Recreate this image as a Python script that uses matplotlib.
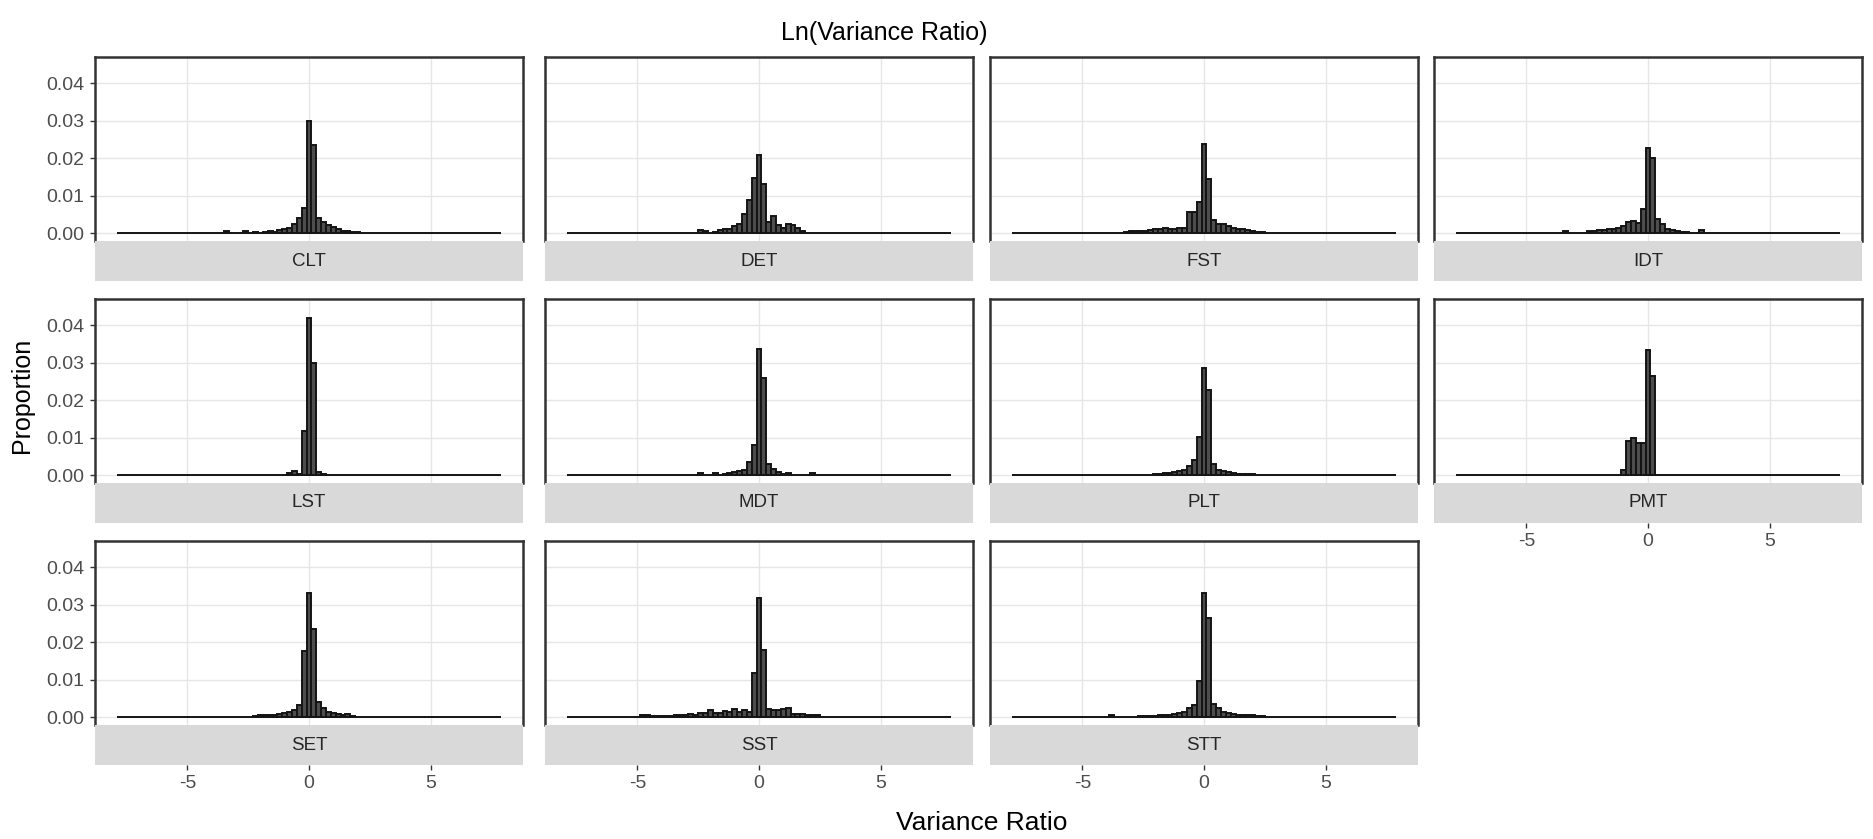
import numpy as np
import matplotlib.pyplot as plt

plt.rcParams['font.family'] = ['Liberation Sans', 'DejaVu Sans']
plt.rcParams['axes.unicode_minus'] = False

# histogram bins: width 0.2, data range -7.9 .. 7.9
bin_width = 0.2
x_lo, x_hi = -7.9, 7.9
# heights below are for bin centres -5.0, -4.8, ..., 3.0 (41 bins), in units of 0.001
window_start = -5.0

facets = ['CLT', 'DET', 'FST', 'IDT', 'LST', 'MDT', 'PLT', 'PMT', 'SET', 'SST', 'STT']

#        -5.0 .. -3.6               -3.4 .. -2.0                    -1.8 .. -0.2                                 0.0 .. 2.0                                          2.2 .. 3.0
h_clt = [0, 0, 0, 0, 0, 0, 0, 0,    0.6, 0, 0, 0, 0.5, 0, 0.4, 0,   0.3, 0.5, 0.4, 0.8, 1.2, 1.5, 2.5, 4.0, 6.8,  30.0, 23.5, 4.0, 3.0, 2.2, 1.6, 1.1, 0.7, 0.5, 0.3, 0.2,  0, 0, 0, 0, 0]
h_det = [0, 0, 0, 0, 0, 0, 0, 0,    0, 0, 0, 0, 0, 0.8, 0.6, 0,     0.3, 0.8, 1.0, 1.2, 1.8, 2.5, 5.0, 8.8, 14.6, 20.8, 13.0, 3.0, 4.7, 2.2, 1.5, 2.5, 2.3, 1.5, 0.5, 0,    0, 0, 0, 0, 0]
h_fst = [0, 0, 0, 0, 0, 0, 0, 0,    0, 0.4, 0.5, 0.5, 0.7, 0.7, 0.8, 1.0, 1.0, 1.5, 1.0, 1.2, 1.5, 1.5, 5.6, 5.6, 8.3, 23.9, 14.5, 3.5, 2.5, 2.5, 2.0, 1.5, 1.0, 1.0, 0.8, 0.5, 0.3, 0.2, 0, 0, 0]
h_idt = [0, 0, 0, 0, 0, 0, 0, 0,    0.6, 0, 0, 0, 0, 0.5, 0.6, 0.8, 0.8, 1.2, 1.2, 1.5, 2.0, 3.0, 3.2, 2.8, 6.5,  22.8, 20.0, 3.8, 2.4, 1.2, 0.8, 0.6, 0.4, 0.3, 0, 0,      0.8, 0, 0, 0, 0]
h_lst = [0, 0, 0, 0, 0, 0, 0, 0,    0, 0, 0, 0, 0, 0, 0, 0,         0, 0, 0, 0, 0, 0.5, 1.0, 0.3, 11.7,           42.0, 30.0, 0.8, 0.4, 0, 0, 0, 0, 0, 0, 0,         0, 0, 0, 0, 0]
h_mdt = [0, 0, 0, 0, 0, 0, 0, 0,    0, 0, 0, 0, 0, 0.5, 0, 0,       0.5, 0, 0.3, 0.6, 0.8, 1.0, 1.5, 3.5, 8.0,    33.6, 26.0, 3.0, 1.7, 0.8, 0.3, 0.6, 0, 0, 0, 0,     0.5, 0, 0, 0, 0]
h_plt = [0, 0, 0, 0, 0, 0, 0, 0,    0, 0, 0, 0, 0, 0, 0, 0.3,       0.3, 0.5, 0.6, 0.8, 1.0, 1.5, 2.5, 4.0, 10.1, 28.7, 22.8, 3.0, 1.5, 1.0, 0.8, 0.5, 0.4, 0.3, 0.3, 0.3, 0, 0, 0, 0, 0]
h_pmt = [0, 0, 0, 0, 0, 0, 0, 0,    0, 0, 0, 0, 0, 0, 0, 0,         0, 0, 0, 0, 1.5, 9.0, 10.0, 8.5, 8.5,         33.5, 26.4, 0, 0, 0, 0, 0, 0, 0, 0, 0,             0, 0, 0, 0, 0]
h_set = [0, 0, 0, 0, 0, 0, 0, 0,    0, 0, 0, 0, 0, 0, 0.4, 0.5,     0.5, 0.6, 0.7, 0.8, 1.0, 1.5, 2.0, 3.2, 17.7, 33.2, 23.6, 4.0, 2.5, 1.5, 1.0, 0.8, 0.5, 0.8, 0.3, 0,   0, 0, 0, 0, 0]
h_sst = [0, 0.5, 0.5, 0.3, 0.2, 0.4, 0.2, 0.4, 0.5, 0.6, 0.5, 0.8, 0.7, 1.0, 1.2, 1.8, 1.2, 1.2, 1.6, 1.4, 2.2, 1.5, 1.8, 1.3, 11.8, 31.8, 18.0, 2.2, 1.8, 2.0, 2.2, 2.5, 0.8, 0.8, 0.8, 0.7, 0.5, 0.6, 0, 0, 0]
h_stt = [0, 0, 0, 0, 0, 0, 0.6, 0,  0, 0, 0, 0, 0.3, 0.4, 0.4, 0.4, 0.5, 0.5, 0.6, 0.8, 1.0, 1.5, 2.5, 3.2, 9.7,  33.2, 26.4, 3.5, 2.5, 1.5, 1.0, 0.8, 0.6, 0.5, 0.5, 0.5, 0.4, 0.3, 0, 0, 0]

heights = dict(CLT=h_clt, DET=h_det, FST=h_fst, IDT=h_idt, LST=h_lst, MDT=h_mdt,
               PLT=h_plt, PMT=h_pmt, SET=h_set, SST=h_sst, STT=h_stt)

y_ticks = [0.00, 0.01, 0.02, 0.03, 0.04]
x_ticks = [-5, 0, 5]

# full bin grid
n_bins = int(round((x_hi - x_lo) / bin_width))
centers = x_lo + bin_width / 2 + bin_width * np.arange(n_bins)
offset = int(round((window_start - centers[0]) / bin_width))

W, H = 1873, 839
fig = plt.figure(figsize=(W / 100, H / 100), dpi=100)


def px_box(left, top, w, h):
    return [left / W, 1 - (top + h) / H, w / W, h / H]


col_left = [95, 545, 990, 1434]
row_top = [57, 299, 541]
panel_w, panel_h, strip_h = 428, 184, 40
xlim = (-8.8, 8.8)
ylim = (-0.0021, 0.047)

for i, name in enumerate(facets):
    r, c = divmod(i, 4)
    vals = np.array(heights[name]) / 1000
    assert len(vals) == 41
    full = np.zeros(n_bins)
    full[offset:offset + len(vals)] = vals

    ax = fig.add_axes(px_box(col_left[c], row_top[r], panel_w, panel_h))
    ax.set_xlim(xlim)
    ax.set_ylim(ylim)
    ax.set_xticks(x_ticks)
    ax.set_yticks(y_ticks)
    ax.grid(True, color='#E6E6E6', linewidth=1.0)
    ax.set_axisbelow(True)
    ax.bar(centers, full, width=bin_width, color='#4D4D4D', edgecolor='#141414', linewidth=1.4)
    ax.tick_params(axis='x', length=0, labelbottom=False)
    if c == 0:
        ax.set_yticklabels([f'{v:.2f}' for v in y_ticks])
        ax.tick_params(axis='y', length=3.5, width=1, color='#333333', labelcolor='#4D4D4D', labelsize=14, pad=4)
    else:
        ax.tick_params(axis='y', length=0, labelleft=False)
    for side in ['left', 'top', 'right']:
        ax.spines[side].set_color('#333333')
        ax.spines[side].set_linewidth(1.8)
    ax.spines['bottom'].set_visible(False)

    sax = fig.add_axes(px_box(col_left[c], row_top[r] + panel_h, panel_w, strip_h))
    sax.set_xlim(xlim)
    sax.set_facecolor('#D9D9D9')
    sax.set_yticks([])
    for s in sax.spines.values():
        s.set_visible(False)
    sax.text(0.5, 0.5, name, transform=sax.transAxes, ha='center', va='center',
             fontsize=13.5, color='#262626')
    if r == 2 or name == 'PMT':
        sax.set_xticks(x_ticks)
        sax.set_xticklabels([str(v) for v in x_ticks])
        sax.tick_params(axis='x', length=3.5, width=1, color='#333333', labelcolor='#4D4D4D', labelsize=14, pad=4)
    else:
        sax.set_xticks([])

fig.text(884 / W, 1 - 33 / H, 'Ln(Variance Ratio)', ha='center', va='center', fontsize=18, color='black')
fig.text(982 / W, 1 - 823 / H, 'Variance Ratio', ha='center', va='center', fontsize=19, color='black')
fig.text(22 / W, 1 - 395 / H, 'Proportion', ha='center', va='center', rotation=90, fontsize=18, color='black')

fig.savefig('out.png', dpi=100)
